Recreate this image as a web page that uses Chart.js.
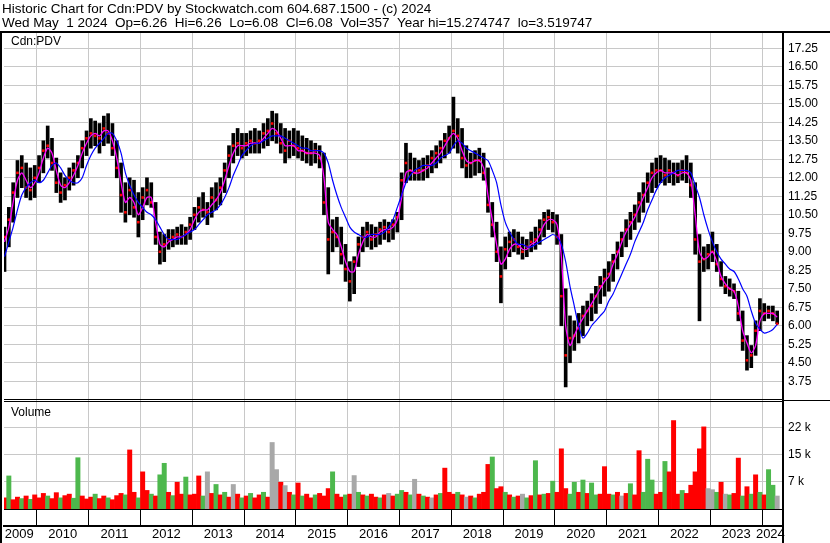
<!DOCTYPE html>
<html>
<head>
<meta charset="utf-8">
<title>Historic Chart for Cdn:PDV</title>
<script src="https://cdn.jsdelivr.net/npm/chart.js@4.4.1/dist/chart.umd.min.js"></script>
<style>
  html, body { margin: 0; padding: 0; background: #fff; }
</style>
</head>
<body>
<canvas id="canvasPDV" width="830" height="543"></canvas>
<script>
/* monthly bars, May 2009 .. Apr 2024 (180 months) */
var firstYear = 2009, firstMonth = 5;

var high = [
  10.0, 10.8, 11.8, 12.7, 12.9, 12.6, 12.4, 12.5,
  12.9, 13.5, 14.1, 13.6, 12.8, 12.2, 12.0, 12.4, 12.6, 12.9, 13.5, 13.9,
  14.4, 14.3, 14.2, 14.5, 14.6, 14.2, 13.5, 12.6, 11.8, 12.0, 11.9, 11.4,
  11.6, 12.0, 11.8, 11.0, 9.8, 9.7, 9.9, 9.9, 10.0, 10.1, 10.0, 10.4,
  10.8, 11.2, 11.4, 11.0, 11.6, 11.8, 12.0, 12.6, 13.3, 13.8, 14.0, 13.8,
  13.8, 13.9, 14.0, 13.9, 14.2, 14.4, 14.7, 14.6, 14.2, 14.0, 13.9, 14.0,
  13.9, 13.7, 13.6, 13.5, 13.4, 13.3, 13.0, 11.6, 10.3, 10.4, 10.0, 9.3,
  8.6, 8.8, 9.6, 10.0, 10.2, 10.1, 10.0, 10.2, 10.3, 10.2, 10.3, 10.6,
  12.2, 13.4, 13.0, 12.8, 12.7, 12.8, 12.9, 13.1, 13.3, 13.5, 13.8, 14.1,
  15.27, 14.4, 14.0, 13.3, 13.0, 13.1, 13.2, 13.0, 12.4, 11.0, 10.2, 9.2,
  9.6, 9.8, 9.9, 9.8, 9.6, 9.5, 9.8, 10.0, 10.3, 10.6, 10.7, 10.6,
  10.5, 9.7, 7.5, 6.4, 6.2, 6.5, 6.8, 7.0, 7.3, 7.6, 8.0, 8.3,
  8.6, 8.9, 9.4, 9.8, 10.3, 10.6, 10.9, 11.4, 11.8, 12.2, 12.6, 12.8,
  12.9, 12.8, 12.7, 12.6, 12.6, 12.7, 12.9, 12.6, 11.8, 9.7, 9.2, 9.3,
  9.8, 9.3, 8.6, 8.0, 7.9, 7.7, 7.4, 6.6, 5.6, 5.2, 6.2, 7.1,
  6.9, 6.8, 6.8, 6.6
];

var low = [
  8.2, 9.2, 10.2, 11.2, 11.6, 11.2, 11.1, 11.2,
  11.8, 12.2, 12.8, 12.3, 11.4, 11.0, 11.1, 11.5, 11.7, 12.0, 12.4, 12.9,
  13.2, 13.3, 13.0, 13.3, 13.4, 12.9, 12.0, 10.6, 10.2, 10.5, 10.4, 9.6,
  10.3, 10.9, 10.8, 9.3, 8.5, 8.6, 9.1, 9.2, 9.3, 9.3, 9.3, 9.5,
  9.9, 10.2, 10.4, 10.1, 10.4, 10.7, 10.9, 11.4, 12.0, 12.6, 12.9, 12.8,
  12.9, 13.0, 13.0, 13.0, 13.2, 13.3, 13.5, 13.4, 13.0, 12.6, 12.8, 12.9,
  12.8, 12.7, 12.6, 12.5, 12.6, 12.4, 10.5, 8.1, 9.0, 9.2, 8.5, 7.8,
  7.0, 7.3, 8.4, 9.0, 9.2, 9.1, 9.2, 9.3, 9.5, 9.4, 9.5, 9.8,
  10.3, 11.8, 11.9, 11.9, 11.9, 11.9, 12.0, 12.2, 12.4, 12.6, 12.8, 13.0,
  13.2, 13.0, 12.4, 12.0, 12.0, 12.1, 12.2, 11.9, 10.6, 9.6, 8.6, 6.93,
  8.3, 8.8, 9.0, 8.9, 8.7, 8.8, 9.0, 9.1, 9.3, 9.6, 9.9, 9.8,
  9.3, 6.0, 3.52, 4.5, 5.0, 5.3, 5.6, 6.0, 6.2, 6.5, 6.9, 7.2,
  7.4, 7.8, 8.3, 8.8, 9.2, 9.5, 9.9, 10.2, 10.6, 11.0, 11.4, 11.6,
  11.8, 11.7, 11.8, 11.7, 11.8, 11.9, 11.8, 11.2, 8.9, 6.2, 8.2, 8.3,
  8.6, 8.2, 7.6, 7.3, 7.2, 7.1, 6.2, 5.0, 4.2, 4.3, 4.8, 5.8,
  6.2, 6.3, 6.2, 6.08
];

var close = [
  9.6, 10.3, 11.4, 12.2, 12.4, 11.6, 11.5, 12.0,
  12.4, 13.1, 13.3, 12.6, 11.8, 11.4, 11.7, 12.0, 12.3, 12.6, 13.2, 13.6,
  13.8, 13.7, 13.6, 14.0, 13.8, 13.2, 12.4, 11.3, 10.6, 11.5, 10.8, 10.2,
  11.2, 11.5, 11.0, 9.6, 9.0, 9.3, 9.5, 9.6, 9.7, 9.6, 9.8, 10.1,
  10.5, 10.8, 10.7, 10.6, 11.2, 11.1, 11.6, 12.3, 12.9, 13.3, 13.4, 13.2,
  13.4, 13.5, 13.4, 13.5, 13.8, 13.9, 14.2, 13.8, 13.4, 13.1, 13.5, 13.3,
  13.2, 13.1, 13.0, 13.0, 13.1, 12.8, 11.0, 9.5, 9.8, 9.6, 8.9, 8.3,
  7.8, 8.6, 9.3, 9.6, 9.8, 9.5, 9.7, 9.9, 10.0, 9.8, 10.1, 10.4,
  11.9, 12.6, 12.3, 12.2, 12.3, 12.3, 12.5, 12.8, 13.0, 13.2, 13.5, 13.6,
  13.9, 13.7, 12.8, 12.5, 12.6, 12.7, 12.7, 12.2, 10.9, 10.1, 9.0, 8.0,
  9.1, 9.4, 9.5, 9.2, 9.0, 9.2, 9.4, 9.5, 9.9, 10.3, 10.4, 10.2,
  9.6, 7.2, 4.8, 5.5, 5.6, 5.9, 6.4, 6.6, 6.8, 7.2, 7.6, 7.9,
  8.1, 8.6, 9.0, 9.5, 9.9, 10.2, 10.5, 11.0, 11.3, 11.8, 12.2, 12.3,
  12.3, 12.1, 12.3, 12.2, 12.1, 12.3, 12.2, 11.7, 9.5, 8.6, 8.7, 8.9,
  9.0, 8.5, 7.9, 7.6, 7.5, 7.4, 6.5, 5.4, 4.6, 4.8, 5.8, 6.6,
  6.5, 6.6, 6.5, 6.08
];

// magenta (short) average
var maFast = [
  9.4, 10.0, 11.0, 11.9, 12.2, 11.9, 11.6, 11.8,
  12.2, 12.8, 13.2, 13.0, 12.3, 11.7, 11.6, 11.8, 12.1, 12.5, 13.0, 13.4,
  13.7, 13.8, 13.7, 13.9, 13.9, 13.5, 12.8, 11.8, 11.0, 11.2, 11.0, 10.5,
  10.8, 11.2, 11.2, 10.2, 9.3, 9.2, 9.4, 9.5, 9.6, 9.6, 9.7, 9.9,
  10.3, 10.6, 10.7, 10.7, 10.9, 11.1, 11.4, 11.9, 12.5, 13.0, 13.3, 13.3,
  13.3, 13.4, 13.4, 13.4, 13.6, 13.8, 14.0, 13.9, 13.6, 13.3, 13.3, 13.3,
  13.1, 13.1, 13.0, 13.0, 13.0, 12.9, 12.0, 10.2, 9.9, 9.7, 9.2, 8.6,
  8.2, 8.2, 8.9, 9.4, 9.7, 9.6, 9.6, 9.8, 9.9, 9.9, 10.0, 10.3,
  11.2, 12.2, 12.3, 12.2, 12.2, 12.3, 12.4, 12.6, 12.8, 13.0, 13.3, 13.6,
  13.8, 13.6, 13.1, 12.7, 12.6, 12.7, 12.7, 12.4, 11.3, 10.3, 9.3, 8.5,
  8.7, 9.1, 9.3, 9.3, 9.1, 9.1, 9.3, 9.4, 9.7, 10.1, 10.3, 10.3,
  10.1, 8.8, 6.0, 5.2, 5.6, 6.0, 6.3, 6.6, 6.9, 7.2, 7.5, 7.8,
  8.0, 8.5, 8.9, 9.4, 9.8, 10.1, 10.4, 10.8, 11.2, 11.6, 12.0, 12.2,
  12.3, 12.2, 12.2, 12.2, 12.1, 12.2, 12.2, 11.9, 10.5, 9.0, 8.7, 8.8,
  9.0, 8.6, 8.0, 7.7, 7.5, 7.4, 6.8, 5.8, 5.3, 4.9, 5.2, 6.2,
  6.5, 6.5, 6.5, 6.35
];

// blue (long) average
var maSlow = [
  8.8, 9.4, 10.0, 10.7, 11.3, 11.6, 11.8, 11.9,
  11.8, 11.9, 12.2, 12.5, 12.6, 12.4, 12.1, 11.9, 11.8, 11.8, 12.0, 12.5,
  12.9, 13.2, 13.4, 13.6, 13.8, 13.8, 13.5, 13.0, 12.2, 11.7, 11.3, 11.0,
  10.8, 10.6, 10.5, 10.3, 10.0, 9.7, 9.5, 9.5, 9.5, 9.6, 9.7, 9.8,
  9.9, 10.1, 10.3, 10.5, 10.6, 10.7, 10.9, 11.2, 11.6, 12.1, 12.5, 12.9,
  13.1, 13.3, 13.4, 13.4, 13.5, 13.6, 13.7, 13.7, 13.7, 13.6, 13.5, 13.4,
  13.3, 13.2, 13.2, 13.1, 13.1, 13.1, 13.0, 12.6, 11.9, 11.3, 10.8, 10.4,
  10.0, 9.8, 9.7, 9.6, 9.6, 9.7, 9.7, 9.7, 9.8, 10.0, 10.3, 10.8,
  11.3, 11.8, 12.1, 12.3, 12.4, 12.5, 12.5, 12.5, 12.6, 12.8, 12.9, 13.0,
  13.3, 13.5, 13.4, 13.2, 13.1, 13.0, 12.9, 12.8, 12.7, 12.3, 11.8, 10.9,
  10.2, 9.8, 9.5, 9.3, 9.3, 9.2, 9.2, 9.3, 9.4, 9.5, 9.6, 9.7,
  9.6, 9.3, 8.6, 7.6, 6.8, 6.0, 5.5, 5.7, 6.0, 6.2, 6.4, 6.6,
  7.0, 7.3, 7.7, 8.1, 8.5, 8.9, 9.4, 9.8, 10.2, 10.7, 11.1, 11.5,
  11.8, 12.0, 12.1, 12.2, 12.3, 12.3, 12.3, 12.2, 11.7, 11.2, 10.5, 9.9,
  9.4, 9.0, 8.7, 8.5, 8.3, 8.2, 7.9, 7.5, 7.2, 6.6, 6.1, 5.85,
  5.7, 5.75, 5.85, 6.05
];

// volume in thousands of shares
var volumeK = [
  3.0, 8.9, 2.5, 3.2, 2.8, 3.5, 2.6, 3.8,
  3.0, 4.2, 3.5, 2.8, 4.4, 3.0, 3.6, 4.0, 2.9, 13.8, 3.5, 2.7,
  3.2, 4.0, 2.8, 3.5, 3.0, 2.5, 3.6, 4.2, 3.8, 15.9, 4.5, 3.0,
  10.0, 5.0, 4.0, 3.5, 9.2, 12.3, 4.5, 3.6, 7.2, 4.0, 8.6, 3.8,
  4.0, 8.9, 3.5, 10.0, 4.2, 6.6, 3.8, 4.5, 3.2, 6.6, 4.0, 3.0,
  3.5, 4.2, 3.0, 3.8, 4.5, 3.2, 17.9, 10.6, 7.2, 6.3, 4.5, 3.8,
  7.0, 3.5, 4.0, 3.0, 3.8, 4.2, 3.5, 5.5, 10.0, 4.0, 3.2, 3.8,
  4.0, 9.0, 4.5, 3.8, 3.5, 4.0, 3.2, 3.0, 3.8, 4.2, 3.5, 4.0,
  5.0, 4.5, 3.8, 8.0, 4.0, 3.5, 3.2, 3.0, 3.8, 4.2, 11.0, 4.5,
  4.0, 4.5, 3.8, 3.2, 3.5, 3.0, 4.0, 4.5, 12.0, 14.0, 5.5, 6.0,
  4.5, 3.8, 3.2, 3.5, 4.0, 3.0, 3.6, 13.0, 3.8, 4.0, 4.2, 7.5,
  4.5, 16.2, 5.5, 4.0, 7.2, 4.5, 7.8, 4.2, 7.0, 3.8, 4.0, 11.4,
  4.0, 3.8, 4.5, 3.5, 4.2, 6.8, 3.8, 15.7, 4.5, 13.4, 7.8, 4.0,
  4.5, 12.8, 10.0, 23.8, 4.0, 5.0, 4.2, 6.4, 10.0, 16.2, 22.1, 5.5,
  5.2, 4.5, 7.2, 4.0, 3.8, 4.2, 13.7, 3.5, 6.0, 4.0, 9.2, 4.5,
  3.8, 10.6, 6.4, 3.5
];

// r = down, g = up, n = unchanged
var volumeDir = [
  'rgrrgrgr',
  'rrgrrgrrggrr', 'rgrrgrrrgrrg', 'rrgrggrgrrgr', 'rrgnrgrgrnrg',
  'rgrrgrnnrnrg', 'rgrrgrrrgrrg', 'rngrgrrgrnrg', 'grgnrgrnrgrr',
  'rgrnrgrrrgrr', 'grgrngrgrgrg', 'rrrggrgrggrr', 'rgrnrgrrgggr',
  'rgrrrgrrrrrn', 'ngrngrrgrgrg',
  'rggn'
].join('');

var yearEdges = [2010, 2011, 2012, 2013, 2014, 2015, 2016, 2017, 2018, 2019, 2020, 2021, 2022, 2023, 2024];
var yearLabelPos = [2009.66, 2010.5, 2011.5, 2012.5, 2013.5, 2014.5, 2015.5, 2016.5, 2017.5, 2018.5, 2019.5, 2020.5, 2021.5, 2022.5, 2023.5, 2024.16];
var priceTicks = [3.75, 4.50, 5.25, 6.00, 6.75, 7.50, 8.25, 9.00, 9.75, 10.50, 11.25, 12.00, 12.75, 13.50, 14.25, 15.00, 15.75, 16.50, 17.25];
var volumeTicks = [22 / 3, 44 / 3, 22];

var titleLines = [
  'Historic Chart for Cdn:PDV by Stockwatch.com 604.687.1500 - (c) 2024',
  'Wed May  1 2024  Op=6.26  Hi=6.26  Lo=6.08  Cl=6.08  Vol=357  Year hi=15.274747  lo=3.519747'
];

var FONT = '"Liberation Sans", Arial, sans-serif';
var dirColors = { r: '#ff0000', g: '#4db84d', n: '#a8a8a8' };

function monthX(i) {
  return firstYear + (firstMonth - 1 + i + 0.5) / 12;
}

var hlData = [], closeData = [], fastData = [], slowData = [], volData = [], volColors = [];
for (var i = 0; i < close.length; i++) {
  var x = monthX(i);
  hlData.push({ x: x, y: [low[i], high[i]] });
  closeData.push({ x: x, y: close[i] });
  fastData.push({ x: x, y: maFast[i] });
  slowData.push({ x: x, y: maSlow[i] });
  volData.push({ x: x, y: volumeK[i] });
  volColors.push(dirColors[volumeDir.charAt(i)]);
}

var xMin = 2009.365, xMax = 2024.404;

var framePlugin = {
  id: 'frame',
  afterDraw: function(chart) {
    var ctx = chart.ctx;
    var a = chart.chartArea;
    var yp = chart.scales.y, yv = chart.scales.yv;
    ctx.save();
    ctx.fillStyle = '#000';
    ctx.fillRect(0, a.top - 2, chart.width, 2);
    ctx.fillRect(0, a.top - 2, 2, chart.height - a.top + 2);
    ctx.fillRect(a.right - 1, a.top - 2, 2, chart.height - a.top + 2);
    ctx.fillRect(a.left, Math.round(yp.bottom) - 1, a.right - a.left, 1);
    ctx.fillRect(a.left, Math.round(yp.bottom) + 1, a.right - a.left, 1);
    ctx.fillRect(a.right, Math.round(yp.bottom), chart.width - a.right, 1);
    ctx.font = '12px ' + FONT;
    ctx.textBaseline = 'middle';
    ctx.fillStyle = '#000';
    ctx.fillText('Cdn:PDV', a.left + 7, yp.top + 9);
    ctx.fillText('Volume', a.left + 7, yv.top + 13);
    ctx.restore();
  }
};

var ctx = document.getElementById('canvasPDV');
var graph = new Chart(ctx, {
  type: 'bar',
  data: {
    datasets: [
      {
        type: 'line', label: 'Long average', data: slowData, yAxisID: 'y', xAxisID: 'x',
        borderColor: '#0000ff', borderWidth: 1.2, pointRadius: 0, tension: 0.25, order: 0
      },
      {
        type: 'line', label: 'Short average', data: fastData, yAxisID: 'y', xAxisID: 'x',
        borderColor: '#ff00ff', borderWidth: 1.3, pointRadius: 0, tension: 0.25, order: 1
      },
      {
        type: 'line', label: 'Close', data: closeData, yAxisID: 'y', xAxisID: 'x',
        showLine: false, pointStyle: 'rect', pointRadius: 1.8, pointBorderWidth: 0,
        pointBackgroundColor: '#ff0000', order: 2
      },
      {
        type: 'bar', label: 'Range', data: hlData, yAxisID: 'y', xAxisID: 'x',
        backgroundColor: '#000', barThickness: 3, grouped: false, order: 3
      },
      {
        type: 'bar', label: 'Volume', data: volData, yAxisID: 'yv', xAxisID: 'x',
        backgroundColor: volColors, barPercentage: 1, categoryPercentage: 1,
        grouped: false, order: 4
      }
    ]
  },
  options: {
    responsive: false,
    animation: false,
    devicePixelRatio: 1,
    events: [],
    layout: { padding: { left: 2, right: 0, top: 0, bottom: 0 } },
    plugins: {
      legend: { display: false },
      tooltip: { enabled: false },
      title: {
        display: true,
        text: titleLines,
        align: 'start',
        color: '#000',
        font: { family: FONT, size: 13.5, weight: 'normal', lineHeight: '14px' },
        padding: { top: 2, bottom: 3 }
      }
    },
    scales: {
      x: {
        type: 'linear', position: 'bottom', min: xMin, max: xMax, bounds: 'data', offset: false,
        afterBuildTicks: function(scale) {
          scale.ticks = yearEdges.map(function(v) { return { value: v }; });
        },
        afterFit: function(scale) { scale.height = 17; },
        grid: { offset: false, color: '#c8c8c8', tickColor: '#000', tickLength: 17, drawTicks: true },
        border: { display: true, color: '#000', width: 1 },
        ticks: { display: false, autoSkip: false }
      },
      xLabels: {
        type: 'linear', position: 'bottom', min: xMin, max: xMax, bounds: 'data', offset: false,
        afterBuildTicks: function(scale) {
          scale.ticks = yearLabelPos.map(function(v) { return { value: v }; });
        },
        afterFit: function(scale) { scale.height = 17; },
        grid: { display: false, drawTicks: false, offset: false },
        border: { display: true, color: '#000', width: 2 },
        ticks: {
          autoSkip: false, maxRotation: 0, padding: 1, color: '#000',
          font: { family: FONT, size: 13 },
          callback: function(v) { return String(Math.floor(v)); }
        }
      },
      y: {
        type: 'linear', position: 'right', stack: 'panes', stackWeight: 367,
        min: 2.99, max: 17.87, bounds: 'data',
        afterBuildTicks: function(scale) {
          scale.ticks = priceTicks.map(function(v) { return { value: v }; });
        },
        afterFit: function(scale) { scale.width = 47; },
        grid: { color: '#c8c8c8', drawTicks: false },
        border: { display: false },
        ticks: {
          autoSkip: false, padding: 5, color: '#000', font: { family: FONT, size: 12 },
          callback: function(v) { return v.toFixed(2); }
        }
      },
      yv: {
        type: 'linear', position: 'right', stack: 'panes', stackWeight: 109,
        min: 0, max: 88 / 3, bounds: 'data',
        afterBuildTicks: function(scale) {
          scale.ticks = volumeTicks.map(function(v) { return { value: v }; });
        },
        afterFit: function(scale) { scale.width = 47; },
        grid: { color: '#c8c8c8', drawTicks: false },
        border: { display: false },
        ticks: {
          autoSkip: false, padding: 5, color: '#000', font: { family: FONT, size: 12 },
          callback: function(v) { return Math.round(v) + ' k'; }
        }
      }
    }
  },
  plugins: [framePlugin]
});
</script>
</body>
</html>
